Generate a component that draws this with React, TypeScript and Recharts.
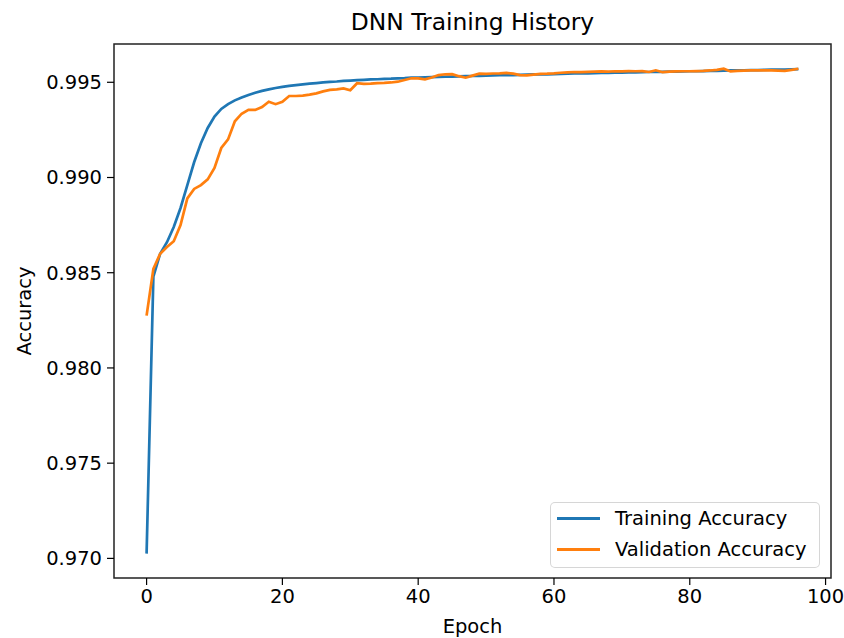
import React from "react";
import {
  LineChart,
  Line,
  XAxis,
  YAxis,
  Legend,
  ReferenceArea,
  Customized,
} from "recharts";

const epochs: number[] = Array.from({ length: 97 }, (_, i) => i);

const trainingAccuracy: number[] = [
  0.97025, 0.9848, 0.986, 0.9866, 0.9874, 0.9884, 0.9896, 0.9908, 0.9918, 0.9926,
  0.9932, 0.9936, 0.99385, 0.99405, 0.9942, 0.99433, 0.99445, 0.99455, 0.99463, 0.9947,
  0.99476, 0.99481, 0.99485, 0.99489, 0.99493, 0.99496, 0.99499, 0.99502, 0.99504, 0.99507,
  0.99509, 0.99511, 0.99513, 0.99515, 0.99516, 0.99518, 0.99519, 0.99521, 0.99522, 0.99524,
  0.99525, 0.99526, 0.99527, 0.99528, 0.99529, 0.9953, 0.99531, 0.99532, 0.99533, 0.99534,
  0.99535, 0.99536, 0.99537, 0.99538, 0.99538, 0.99539, 0.9954, 0.99541, 0.99542, 0.99542,
  0.99543, 0.99544, 0.99545, 0.99546, 0.99546, 0.99547, 0.99548, 0.99549, 0.99549, 0.9955,
  0.99551, 0.99552, 0.99552, 0.99553, 0.99554, 0.99554, 0.99555, 0.99556, 0.99556, 0.99557,
  0.99558, 0.99558, 0.99559, 0.9956, 0.9956, 0.99561, 0.99562, 0.99562, 0.99563, 0.99564,
  0.99564, 0.99565, 0.99566, 0.99566, 0.99567, 0.99568, 0.99569,
];

const validationAccuracy: number[] = [
  0.98275, 0.9852, 0.986, 0.98635, 0.98665, 0.9875, 0.9889, 0.9894, 0.9896, 0.9899,
  0.9905, 0.99155, 0.992, 0.99295, 0.99335, 0.99355, 0.99355, 0.9937, 0.99398, 0.99385,
  0.99398, 0.99428, 0.99428, 0.9943, 0.99435, 0.99442, 0.99452, 0.9946, 0.99463, 0.99468,
  0.99458, 0.99495, 0.99492, 0.99493, 0.99496, 0.99497, 0.99499, 0.99503, 0.99512, 0.99521,
  0.9952, 0.99515, 0.99525, 0.99538, 0.99542, 0.99543, 0.99532, 0.99524, 0.99535, 0.99545,
  0.99544, 0.99546, 0.99547, 0.99549, 0.99545, 0.99538, 0.99536, 0.9954, 0.99544, 0.99545,
  0.99547, 0.9955, 0.99552, 0.99554, 0.99553, 0.99555, 0.99556, 0.99557, 0.99556, 0.99558,
  0.99557, 0.99559, 0.99558, 0.99559, 0.99554, 0.99563, 0.99553, 0.99556, 0.99557, 0.99558,
  0.99558, 0.99559, 0.9956, 0.99562, 0.99565, 0.99571, 0.99557, 0.9956, 0.99561, 0.99562,
  0.99563, 0.99563, 0.99562, 0.99561, 0.9956, 0.99565, 0.99571,
];

const xTicks = [0, 20, 40, 60, 80, 100];
const yTicks = [0.97, 0.975, 0.98, 0.985, 0.99, 0.995];

const X_DOMAIN: [number, number] = [-4.8, 100.8];
const Y_DOMAIN: [number, number] = [0.96897, 0.99701];

const BLUE = "#1f77b4";
const ORANGE = "#ff7f0e";
const FONT = "'DejaVu Sans', sans-serif";

const data = epochs.map((epoch, i) => ({
  epoch,
  train: trainingAccuracy[i],
  val: validationAccuracy[i],
}));

const legendItems = [
  { label: "Training Accuracy", color: BLUE },
  { label: "Validation Accuracy", color: ORANGE },
];

function LegendBox() {
  return (
    <div
      style={{
        width: 270,
        height: 66,
        boxSizing: "border-box",
        border: "1.5px solid rgba(204,204,204,0.8)",
        borderRadius: 5,
        background: "rgba(255,255,255,0.8)",
        position: "relative",
        fontFamily: FONT,
      }}
    >
      {legendItems.map((item, i) => (
        <div
          key={item.label}
          style={{
            position: "absolute",
            left: 6,
            top: 2 + i * 31,
            height: 26,
            display: "flex",
            alignItems: "center",
          }}
        >
          <div style={{ width: 43, height: 3, background: item.color }} />
          <span
            style={{
              marginLeft: 15,
              fontSize: 19.5,
              color: "#000",
              whiteSpace: "nowrap",
            }}
          >
            {item.label}
          </span>
        </div>
      ))}
    </div>
  );
}

function Title() {
  return (
    <text
      x={472.5}
      y={30}
      textAnchor="middle"
      fontSize={23.4}
      fill="#000"
      fontFamily={FONT}
    >
      DNN Training History
    </text>
  );
}

function YLabel() {
  return (
    <text
      x={0}
      y={0}
      transform="translate(31, 311) rotate(-90)"
      textAnchor="middle"
      fontSize={19.5}
      fill="#000"
      fontFamily={FONT}
    >
      Accuracy
    </text>
  );
}

export default function App() {
  return (
    <div style={{ width: 844, height: 638, position: "relative" }}>
      <style>{`body { margin: 0; background: #fff; }`}</style>
      <LineChart
        width={844}
        height={638}
        data={data}
        margin={{ top: 44, right: 13, left: 0, bottom: 0 }}
        style={{ fontFamily: FONT }}
      >
        <XAxis
          dataKey="epoch"
          type="number"
          domain={X_DOMAIN}
          ticks={xTicks}
          allowDataOverflow
          height={60}
          axisLine={false}
          tickSize={7}
          tickMargin={4}
          tickLine={{ stroke: "#000", strokeWidth: 1.2 }}
          tick={{ fill: "#000", fontSize: 19.5 }}
          label={{
            value: "Epoch",
            position: "insideBottom",
            offset: 5,
            fill: "#000",
            fontSize: 19.5,
          }}
        />
        <YAxis
          type="number"
          domain={Y_DOMAIN}
          ticks={yTicks}
          allowDataOverflow
          width={114}
          axisLine={false}
          tickSize={7}
          tickMargin={5}
          tickLine={{ stroke: "#000", strokeWidth: 1.2 }}
          tick={{ fill: "#000", fontSize: 19.5 }}
          tickFormatter={(v: number) => v.toFixed(3)}
        />
        <ReferenceArea
          x1={X_DOMAIN[0]}
          x2={X_DOMAIN[1]}
          y1={Y_DOMAIN[0]}
          y2={Y_DOMAIN[1]}
          fill="none"
          stroke="#222"
          strokeWidth={1.5}
          ifOverflow="visible"
        />
        <Line
          type="linear"
          dataKey="train"
          name="Training Accuracy"
          stroke={BLUE}
          strokeWidth={2.7}
          dot={false}
          isAnimationActive={false}
        />
        <Line
          type="linear"
          dataKey="val"
          name="Validation Accuracy"
          stroke={ORANGE}
          strokeWidth={2.7}
          dot={false}
          isAnimationActive={false}
        />
        <Legend
          layout="vertical"
          align="center"
          verticalAlign="middle"
          content={() => <LegendBox />}
          wrapperStyle={{ left: 550, top: 502, width: 270, height: 66 }}
        />
        <Customized component={Title} />
        <Customized component={YLabel} />
      </LineChart>
    </div>
  );
}
